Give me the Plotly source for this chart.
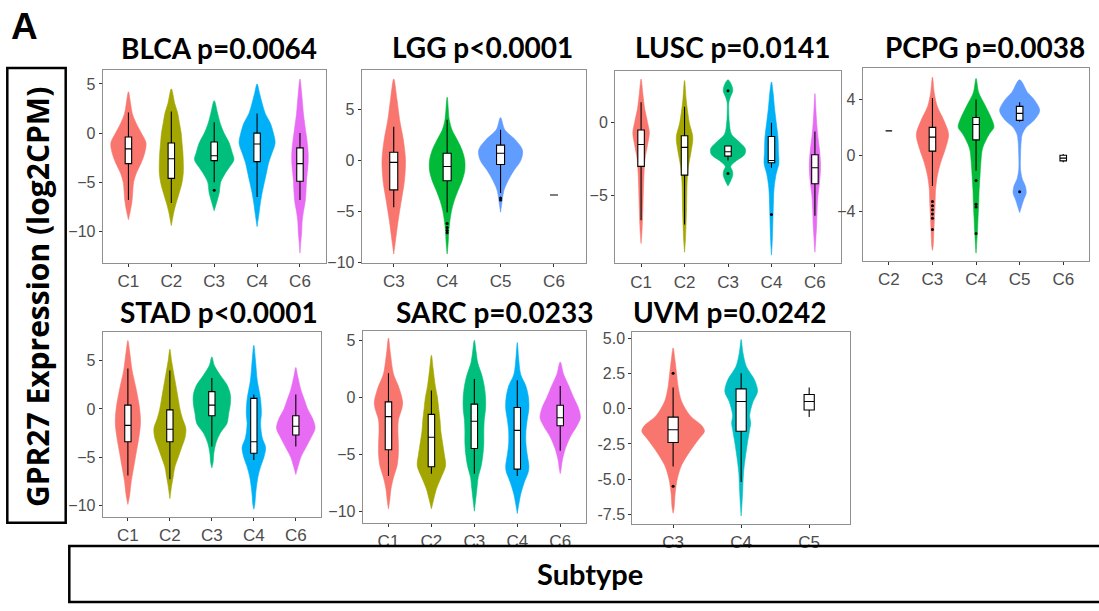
import plotly.graph_objects as go

W, H = 1099, 611

# ---------------- data ----------------
PAL5 = ["#F8766D", "#A3A500", "#00BF7D", "#00B0F6", "#E76BF3"]
PAL3 = {"C3": "#F8766D", "C4": "#00BA38", "C5": "#619CFF"}

# BLCA
blca_cats = ["C1", "C2", "C3", "C4", "C6"]
blca_q1 = [-3.1, -4.6, -2.8, -2.9, -4.9]
blca_med = [-1.6, -2.6, -2.3, -1.1, -3.1]
blca_q3 = [-0.4, -1.0, -0.9, 0.0, -1.5]
blca_lo = [-6.8, -7.1, -5.0, -6.5, -6.8]
blca_hi = [2.1, 2.2, 1.1, 2.0, 0.0]
blca_out = {"C3": [-5.8]}
blca_vio = {
    "C1": ([4.2, 3, 2, 1, 0, -1, -2, -3, -4, -5, -6, -7, -8, -8.8],
           [0, 0.05, 0.09, 0.18, 0.30, 0.41, 0.38, 0.30, 0.19, 0.12, 0.10, 0.08, 0.04, 0]),
    "C2": ([4.5, 3, 2, 1, 0, -1, -2, -3, -4, -5, -6, -7, -8, -9.4],
           [0, 0.08, 0.15, 0.19, 0.23, 0.25, 0.27, 0.28, 0.28, 0.25, 0.19, 0.12, 0.06, 0]),
    "C3": ([3.3, 2, 1, 0, -1, -2, -2.7, -3.5, -4, -5, -6, -7, -7.9],
           [0, 0.08, 0.14, 0.23, 0.35, 0.42, 0.46, 0.35, 0.27, 0.15, 0.12, 0.06, 0]),
    "C4": ([5.0, 4, 3, 2, 1, 0, -1, -2, -3, -4, -5, -6, -7, -8, -9.5],
           [0, 0.06, 0.12, 0.19, 0.31, 0.38, 0.42, 0.35, 0.27, 0.22, 0.17, 0.12, 0.08, 0.05, 0]),
    "C6": ([5.5, 4, 2, 0, -1, -2, -3, -4, -5, -6, -7, -8, -9, -10, -11, -12.2],
           [0, 0.04, 0.08, 0.14, 0.17, 0.19, 0.19, 0.17, 0.15, 0.14, 0.12, 0.08, 0.05, 0.04, 0.02, 0]),
}

# LGG
lgg_cats = ["C3", "C4", "C5", "C6"]
lgg_q1 = [-2.9, -2.0, -0.4, -3.4]
lgg_med = [-0.2, -0.6, 0.7, -3.4]
lgg_q3 = [0.8, 0.7, 1.5, -3.4]
lgg_lo = [-4.6, -5.1, -3.2, -3.4]
lgg_hi = [3.3, 4.0, 3.0, -3.4]
lgg_out = {"C4": [-6.2, -6.6, -6.9, -7.1], "C5": [-3.7, -3.9]}
lgg_vio = {
    "C3": ([8, 6, 4, 2, 0, -2, -4, -6, -8, -9.2],
           [0, 0.06, 0.11, 0.18, 0.22, 0.20, 0.14, 0.08, 0.03, 0]),
    "C4": ([6.2, 4, 3, 2, 1, 0, -1, -2, -3, -4, -5, -6, -7, -8, -9.2],
           [0, 0.04, 0.09, 0.19, 0.28, 0.33, 0.33, 0.28, 0.20, 0.13, 0.08, 0.05, 0.03, 0.02, 0]),
    "C5": ([4.2, 3, 2, 1, 0, -1, -2, -3, -4, -5.1],
           [0, 0.08, 0.28, 0.41, 0.38, 0.25, 0.14, 0.06, 0.03, 0]),
}

# LUSC
lusc_cats = ["C1", "C2", "C3", "C4", "C6"]
lusc_q1 = [-3.0, -3.6, -2.3, -2.75, -4.2]
lusc_med = [-1.5, -1.7, -2.0, -2.6, -3.1]
lusc_q3 = [-0.5, -0.9, -1.6, -0.95, -2.2]
lusc_lo = [-6.7, -7.0, -2.6, -3.1, -6.4]
lusc_hi = [1.4, 1.1, -1.6, 0.0, -0.6]
lusc_out = {"C3": [2.2, -3.5], "C4": [-6.3]}
lusc_vio = {
    "C1": ([3.0, 2, 1, 0, -0.7, -1.5, -2.5, -4, -6, -7.5, -8.3],
           [0, 0.04, 0.08, 0.15, 0.19, 0.15, 0.09, 0.06, 0.04, 0.02, 0]),
    "C2": ([2.9, 1.5, 0, -1, -2, -3, -4, -6, -8, -8.9],
           [0, 0.04, 0.11, 0.19, 0.15, 0.09, 0.06, 0.045, 0.02, 0]),
    "C3": ([2.95, 2.6, 2.2, 1.8, 1.4, 0.5, 0, -0.8, -1.3, -1.8, -2.2, -2.6, -3.0, -3.3, -3.6, -4.0, -4.35],
           [0, 0.08, 0.11, 0.06, 0.02, 0.02, 0.03, 0.08, 0.25, 0.40, 0.38, 0.20, 0.06, 0.10, 0.11, 0.06, 0]),
    "C4": ([2.8, 2, 1, 0, -1, -2, -2.8, -3.5, -4.5, -6, -8, -9.1],
           [0, 0.04, 0.07, 0.11, 0.15, 0.16, 0.17, 0.11, 0.06, 0.04, 0.02, 0]),
    "C6": ([2.0, 1, 0, -1, -2, -3, -4, -5, -6, -7, -8, -8.9],
           [0, 0.02, 0.04, 0.07, 0.11, 0.13, 0.11, 0.07, 0.05, 0.04, 0.02, 0]),
}

# PCPG
pcpg_cats = ["C2", "C3", "C4", "C5", "C6"]
pcpg_q1 = [1.75, 0.3, 1.1, 2.5, -0.4]
pcpg_med = [1.75, 1.3, 2.2, 3.0, -0.2]
pcpg_q3 = [1.75, 2.0, 2.7, 3.5, 0.0]
pcpg_lo = [1.75, -2.2, -1.1, 2.4, -0.5]
pcpg_hi = [1.75, 4.1, 4.0, 3.8, 0.1]
pcpg_out = {"C3": [-3.3, -3.6, -3.9, -4.2, -4.5, -5.3], "C4": [-1.8, -3.5, -3.7, -5.6], "C5": [-2.6]}
pcpg_vio = {
    "C3": ([5.6, 4.5, 3.5, 2.5, 1.5, 0.5, -0.5, -1.5, -2.5, -3.5, -4.5, -5.5, -6.5, -6.8],
           [0, 0.04, 0.11, 0.26, 0.37, 0.30, 0.19, 0.11, 0.07, 0.06, 0.045, 0.03, 0.015, 0]),
    "C4": ([5.5, 4.5, 3.5, 2.5, 2, 1.5, 0.5, -0.5, -1.5, -2.5, -3.5, -4.5, -5.5, -7.0],
           [0, 0.06, 0.22, 0.37, 0.41, 0.30, 0.15, 0.11, 0.09, 0.07, 0.06, 0.045, 0.03, 0]),
    "C5": ([5.4, 4.5, 4, 3.2, 2.5, 2, 1.5, 1, 0, -1, -1.7, -2.2, -2.7, -3.2, -3.7, -4.1],
           [0, 0.18, 0.33, 0.46, 0.33, 0.15, 0.06, 0.035, 0.02, 0.02, 0.06, 0.13, 0.15, 0.09, 0.04, 0]),
}

# STAD
stad_cats = ["C1", "C2", "C3", "C4", "C6"]
stad_q1 = [-3.4, -3.4, -0.7, -4.6, -2.7]
stad_med = [-1.7, -2.1, 0.4, -3.4, -1.8]
stad_q3 = [0.4, -0.1, 1.8, 1.1, -0.7]
stad_lo = [-6.9, -7.3, -3.9, -5.3, -3.9]
stad_hi = [4.2, 4.0, 3.2, 1.5, 1.5]
stad_out = {}
stad_vio = {
    "C1": ([7.1, 6, 4, 2, 0, -1.5, -3, -4.5, -6, -7.5, -9, -9.9],
           [0, 0.04, 0.10, 0.20, 0.28, 0.30, 0.26, 0.20, 0.14, 0.08, 0.04, 0]),
    "C2": ([6.2, 5, 3, 1, 0, -1, -2, -3, -4, -5, -6, -7, -8, -9.3],
           [0, 0.04, 0.12, 0.20, 0.24, 0.30, 0.38, 0.36, 0.28, 0.20, 0.12, 0.08, 0.04, 0]),
    "C3": ([5.4, 4.5, 3.5, 2.5, 1.5, 0.5, -0.5, -1.5, -2.5, -3.5, -4.5, -5.5, -6.1],
           [0, 0.06, 0.20, 0.36, 0.44, 0.44, 0.40, 0.36, 0.20, 0.10, 0.05, 0.03, 0]),
    "C4": ([6.6, 5, 3, 1, -0.5, -1.5, -3, -4, -5, -6, -7, -8.5, -10, -10.4],
           [0, 0.04, 0.08, 0.16, 0.18, 0.16, 0.20, 0.28, 0.24, 0.16, 0.10, 0.05, 0.02, 0]),
    "C6": ([4.3, 3.5, 2, 1, 0, -1, -2, -3, -4, -5, -6, -6.8],
           [0, 0.04, 0.12, 0.20, 0.28, 0.40, 0.46, 0.36, 0.24, 0.12, 0.05, 0]),
}

# SARC
sarc_cats = ["C1", "C2", "C3", "C4", "C6"]
sarc_q1 = [-4.6, -6.1, -4.5, -6.3, -2.5]
sarc_med = [-1.7, -3.5, -2.1, -2.9, -1.8]
sarc_q3 = [-0.4, -1.5, -0.6, -0.9, -0.7]
sarc_lo = [-6.9, -6.7, -6.7, -6.9, -4.7]
sarc_hi = [2.1, 0.6, 1.6, 1.5, 1.0]
sarc_out = {}
sarc_vio = {
    "C1": ([5.2, 4, 2, 1, 0, -0.5, -1, -2, -3, -4, -5, -6, -7, -8, -9, -9.8],
           [0, 0.04, 0.12, 0.23, 0.31, 0.33, 0.31, 0.23, 0.22, 0.23, 0.23, 0.20, 0.12, 0.06, 0.03, 0]),
    "C2": ([3.7, 2.5, 1, 0, -1, -2, -3, -4, -5, -6, -7, -8, -9, -9.8],
           [0, 0.04, 0.09, 0.14, 0.17, 0.20, 0.22, 0.26, 0.30, 0.33, 0.23, 0.12, 0.05, 0]),
    "C3": ([5.0, 4, 3, 2, 1, 0, -1, -2, -3, -4, -5, -6, -7, -8, -9, -10],
           [0, 0.04, 0.08, 0.17, 0.23, 0.26, 0.26, 0.23, 0.22, 0.22, 0.20, 0.16, 0.09, 0.06, 0.03, 0]),
    "C4": ([4.8, 3.5, 2, 1, 0, -1, -2, -3, -4, -5, -6, -6.5, -7.5, -8.5, -9.5, -10.2],
           [0, 0.03, 0.08, 0.20, 0.26, 0.27, 0.23, 0.20, 0.20, 0.23, 0.27, 0.26, 0.16, 0.08, 0.03, 0]),
    "C6": ([3.1, 2, 1, 0, -1, -1.8, -2.5, -3.5, -4.5, -5.5, -6.3, -6.7],
           [0, 0.08, 0.20, 0.31, 0.43, 0.47, 0.39, 0.23, 0.12, 0.05, 0.02, 0]),
}

# UVM
uvm_cats = ["C3", "C4", "C5"]
uvm_q1 = [-2.4, -1.6, -0.1]
uvm_med = [-1.5, 0.5, 0.5]
uvm_q3 = [-0.6, 1.4, 1.0]
uvm_lo = [-4.1, -5.2, -0.6]
uvm_hi = [1.5, 2.5, 1.5]
uvm_out = {"C3": [2.5, -5.5]}
uvm_vio = {
    "C3": ([4.3, 3.5, 2.5, 1.5, 0.5, -0.5, -1.2, -1.6, -2.2, -3, -4, -5, -6, -7, -7.4],
           [0, 0.025, 0.05, 0.075, 0.125, 0.25, 0.42, 0.46, 0.37, 0.25, 0.125, 0.06, 0.03, 0.015, 0]),
    "C4": ([4.9, 4, 3, 2, 1.2, 0.5, -0.5, -1, -1.5, -2.5, -3.5, -4.5, -5.5, -6.5, -7.6],
           [0, 0.025, 0.075, 0.20, 0.24, 0.175, 0.125, 0.14, 0.125, 0.09, 0.06, 0.035, 0.025, 0.015, 0]),
}

titles = ["BLCA p=0.0064", "LGG p<0.0001", "LUSC p=0.0141", "PCPG p=0.0038",
          "STAD p<0.0001", "SARC p=0.0233", "UVM p=0.0242"]
ytickvals = [[5, 0, -5, -10], [5, 0, -5, -10], [0, -5], [4, 0, -4],
             [5, 0, -5, -10], [5, 0, -5, -10], [5.0, 2.5, 0.0, -2.5, -5.0, -7.5]]
yticktext = [None, None, None, None, None, None, ["5.0", "2.5", "0.0", "-2.5", "-5.0", "-7.5"]]
y_label = "GPR27 Expression (log2CPM)"
x_label = "Subtype"
panel_letter = "A"

# ---------------- layout geometry (pixels) ----------------
colors = {
    "BLCA": dict(zip(blca_cats, PAL5)),
    "LUSC": dict(zip(lusc_cats, PAL5)),
    "STAD": dict(zip(stad_cats, PAL5)),
    "SARC": dict(zip(sarc_cats, PAL5)),
    "LGG": PAL3, "PCPG": PAL3,
    "UVM": {"C3": "#F8766D", "C4": "#00BFC4"},
}

panels = [
    ("BLCA", (blca_cats, blca_q1, blca_med, blca_q3, blca_lo, blca_hi, blca_out, blca_vio),
     (102.7, 325.7, 69, 265), (-13.17, 6.43), (219, 47)),
    ("LGG", (lgg_cats, lgg_q1, lgg_med, lgg_q3, lgg_lo, lgg_hi, lgg_out, lgg_vio),
     (361.7, 586, 69.3, 265), (-10.05, 8.86), (482, 46)),
    ("LUSC", (lusc_cats, lusc_q1, lusc_med, lusc_q3, lusc_lo, lusc_hi, lusc_out, lusc_vio),
     (615, 841, 70, 265.5), (-9.65, 3.56), (732, 46)),
    ("PCPG", (pcpg_cats, pcpg_q1, pcpg_med, pcpg_q3, pcpg_lo, pcpg_hi, pcpg_out, pcpg_vio),
     (862.7, 1089.4, 67.3, 263.3), (-7.56, 6.23), (985, 46)),
    ("STAD", (stad_cats, stad_q1, stad_med, stad_q3, stad_lo, stad_hi, stad_out, stad_vio),
     (102.7, 321, 335, 523.3), (-11.18, 8.03), (219, 315)),
    ("SARC", (sarc_cats, sarc_q1, sarc_med, sarc_q3, sarc_lo, sarc_hi, sarc_out, sarc_vio),
     (362.7, 586, 334, 529.3), (-11.0, 5.86), (494, 315)),
    ("UVM", (uvm_cats, uvm_q1, uvm_med, uvm_q3, uvm_lo, uvm_hi, uvm_out, uvm_vio),
     (632.3, 850, 335, 530.7), (-8.17, 5.46), (730, 315)),
]
NP = len(panels)


def px_x(p):
    return p / W


def px_y(p):
    return 1 - p / H


def axname(letter, k):
    return letter if k == 1 else f"{letter}{k}"


fig = go.Figure()
layout = dict(width=W, height=H, margin=dict(l=0, r=0, t=0, b=0),
              paper_bgcolor="white", plot_bgcolor="white", showlegend=False,
              annotations=[], shapes=[])

tickfont_x = dict(family="Liberation Sans, Arial", size=17, color="#4d4d4d")
tickfont_y = dict(family="Liberation Sans, Arial", size=16, color="#4d4d4d")

for i, (name, data, box, yr, tpos) in enumerate(panels):
    cats, q1, med, q3, lo, hi, outl, vio = data
    k = i + 1
    ko = k + NP  # overlay axes (drawn on top) for boxes and points
    xa, ya = axname("x", k), axname("y", k)
    xo, yo = axname("x", ko), axname("y", ko)
    xpos = list(range(1, len(cats) + 1))
    col = colors[name]
    # violins
    for c, xc in zip(cats, xpos):
        if c not in vio:
            continue
        ys, ws = vio[c]
        xr = [xc + w for w in ws]
        xl = [xc - w for w in ws]
        fig.add_trace(go.Scatter(
            x=xr + xl[::-1], y=list(ys) + list(ys)[::-1], mode="lines",
            fill="toself", fillcolor=col[c],
            line=dict(color=col[c], width=0.6, shape="spline", smoothing=0.9),
            xaxis=xa, yaxis=ya, hoverinfo="skip"))
    # boxes (on overlay axes so they sit above the violins)
    fig.add_trace(go.Box(
        x=xpos, q1=q1, median=med, q3=q3, lowerfence=lo, upperfence=hi,
        width=0.15, whiskerwidth=0, fillcolor="white",
        line=dict(color="black", width=1.1), boxpoints=False,
        xaxis=xo, yaxis=yo, hoverinfo="skip"))
    # outliers
    ox, oy = [], []
    for c, xc in zip(cats, xpos):
        for v in outl.get(c, []):
            ox.append(xc)
            oy.append(v)
    if ox:
        fig.add_trace(go.Scatter(x=ox, y=oy, mode="markers",
                                 marker=dict(color="black", size=3),
                                 xaxis=xo, yaxis=yo, hoverinfo="skip"))
    x0, x1, y0, y1 = box
    xr_ = [0.4, len(cats) + 0.6]
    layout["xaxis" if k == 1 else f"xaxis{k}"] = dict(
        domain=[px_x(x0), px_x(x1)], anchor=ya, range=xr_,
        tickvals=xpos, ticktext=cats, ticks="outside", ticklen=3, tickcolor="#333333",
        showline=True, mirror=True, linecolor="#8f8f8f", linewidth=1,
        showgrid=False, zeroline=False, fixedrange=True, tickfont=tickfont_x)
    ydict = dict(
        domain=[px_y(y1), px_y(y0)], anchor=xa, range=list(yr),
        tickvals=ytickvals[i], ticks="outside", ticklen=3, tickcolor="#333333",
        showline=True, mirror=True, linecolor="#8f8f8f", linewidth=1,
        showgrid=False, zeroline=False, fixedrange=True, tickfont=tickfont_y)
    if yticktext[i]:
        ydict["ticktext"] = yticktext[i]
    layout["yaxis" if k == 1 else f"yaxis{k}"] = ydict
    layout[f"xaxis{ko}"] = dict(domain=[px_x(x0), px_x(x1)], anchor=yo, overlaying=xa,
                                range=xr_, visible=False, fixedrange=True)
    layout[f"yaxis{ko}"] = dict(domain=[px_y(y1), px_y(y0)], anchor=xo, overlaying=ya,
                                range=list(yr), visible=False, fixedrange=True)
    layout["annotations"].append(dict(
        text=f"<b>{titles[i]}</b>", x=px_x(tpos[0]), y=px_y(tpos[1]),
        xref="paper", yref="paper", showarrow=False, xanchor="center", yanchor="middle",
        font=dict(family="Lato", size=28, color="black")))

# panel letter
layout["annotations"].append(dict(
    text=f"<b>{panel_letter}</b>", x=px_x(24), y=px_y(25), xref="paper", yref="paper",
    showarrow=False, xanchor="center", yanchor="middle",
    font=dict(family="Liberation Sans, Arial", size=37, color="black")))
# y label box
layout["shapes"].append(dict(type="rect", xref="paper", yref="paper",
                             x0=px_x(7.3), x1=px_x(65.7), y0=px_y(529.3), y1=px_y(67),
                             line=dict(color="black", width=2.5)))
layout["annotations"].append(dict(
    text=f"<b>{y_label}</b>", x=px_x(37), y=px_y(300), xref="paper", yref="paper",
    showarrow=False, textangle=-90, xanchor="center", yanchor="middle",
    font=dict(family="Open Sans", size=30, color="black")))
# x label box
layout["shapes"].append(dict(type="rect", xref="paper", yref="paper",
                             x0=px_x(69.3), x1=px_x(1105), y0=px_y(610), y1=px_y(553),
                             line=dict(color="black", width=2.5)))
layout["annotations"].append(dict(
    text=f"<b>{x_label}</b>", x=px_x(590), y=px_y(581), xref="paper", yref="paper",
    showarrow=False, xanchor="center", yanchor="middle",
    font=dict(family="Lato", size=29, color="black")))

fig.update_layout(**layout)
fig.write_html("out.html")
